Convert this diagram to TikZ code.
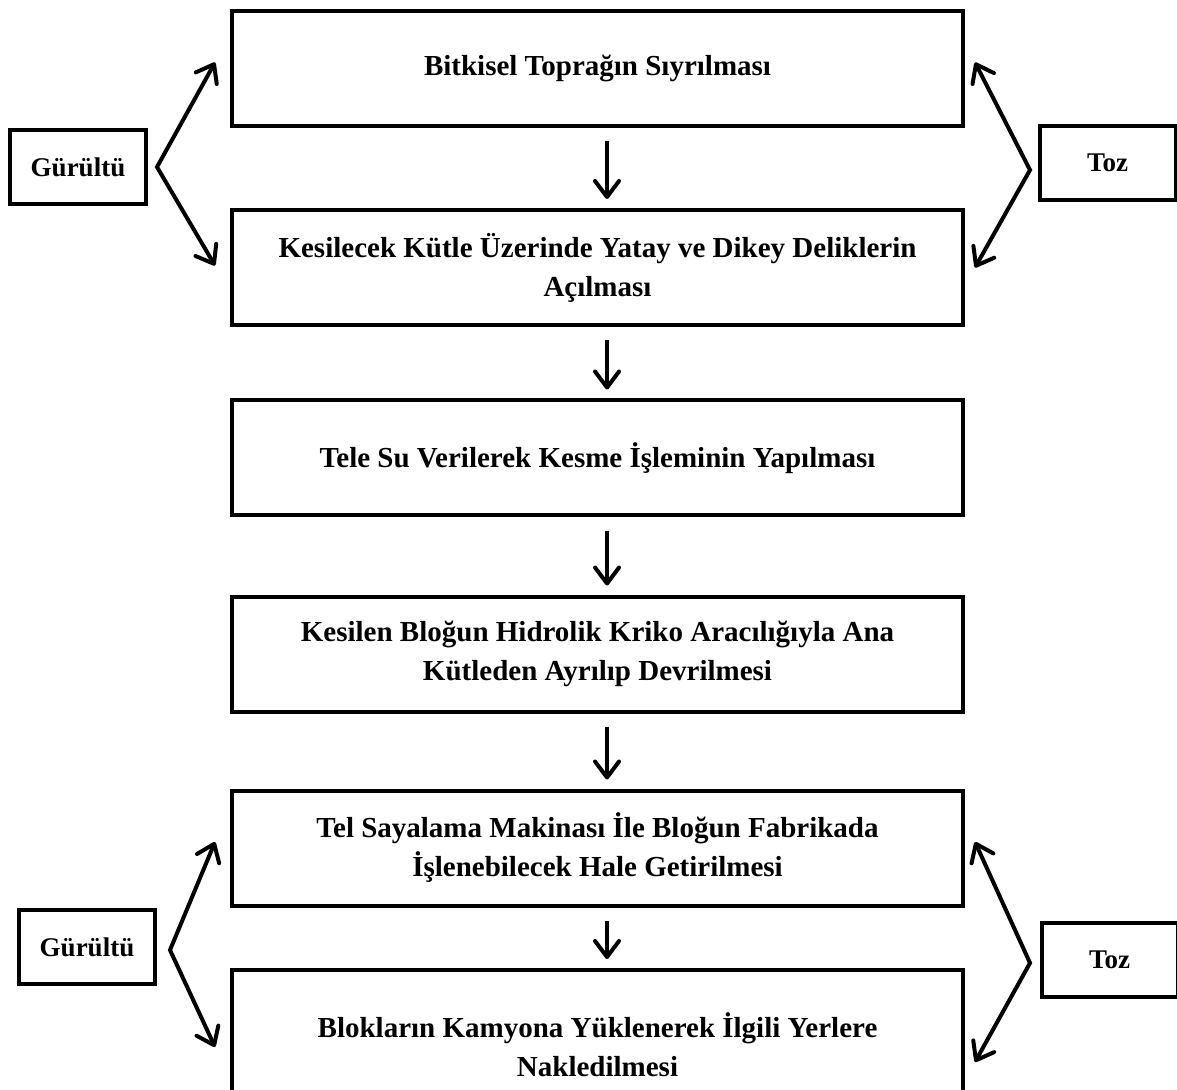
\documentclass[tikz,border=0pt]{standalone}
\usepackage{fontspec}
\setmainfont{Liberation Serif}
\usetikzlibrary{calc,arrows.meta}

\begin{document}
\begin{tikzpicture}[x=0.5pt,y=-0.5pt]
 \tikzstyle{arrow}  = [->,line width=2pt,>={Straight Barb[length=8pt,width=12pt,round]}];
 \tikzstyle{stage}  = [draw=black,line width=2pt,fill=white,minimum width=365.5pt,minimum height=57.5pt,
                       inner sep=0pt,align=center,font=\fontsize{14.5pt}{19.5pt}\selectfont\bfseries];
 \tikzstyle{effect} = [draw=black,line width=2pt,fill=white,minimum width=68pt,minimum height=37pt,
                       inner sep=0pt,font=\fontsize{13.5pt}{16pt}\selectfont\bfseries];

 \useasboundingbox (0,0) rectangle (1177,1090);

 %% process steps
 \node[stage,name=s0] at (597.5,68.5) {Bitkisel Toprağın Sıyrılması};
 \node[stage,name=s1] at (597.5,267.5) {Kesilecek Kütle Üzerinde Yatay ve Dikey Deliklerin\\Açılması};
 \node[stage,name=s2] at (597.5,458) {Tele Su Verilerek Kesme İşleminin Yapılması};
 \node[stage,name=s3] at (597.5,654) {Kesilen Bloğun Hidrolik Kriko Aracılığıyla Ana\\Kütleden Ayrılıp Devrilmesi};
 \node[stage,name=s4] at (597.5,848) {Tel Sayalama Makinası İle Bloğun Fabrikada\\İşlenebilecek Hale Getirilmesi};
 \node[stage,name=s5,minimum height=75pt] at (597.5,1045) {Blokların Kamyona Yüklenerek İlgili Yerlere\\Nakledilmesi};

 \foreach \a/\b in {s0/s1,s1/s2,s2/s3,s3/s4,s4/s5}
   \draw[arrow,shorten <=6.5pt,shorten >=4.5pt] ([xshift=4.75pt]\a.south) -- ([xshift=4.75pt]\b.north);

 %% side effects
 \node[effect,name=g0] at (78,167) {Gürültü};
 \node[effect,name=t0] at (1107.5,163) {Toz};
 \node[effect,name=g1] at (87,947) {Gürültü};
 \node[effect,name=t1] at (1109.5,960) {Toz};

 \coordinate (ga0) at ([xshift=4.5pt]g0.east);
 \coordinate (ta0) at ([xshift=-3.75pt,yshift=-3.5pt]t0.west);
 \coordinate (ga1) at ([xshift=6.5pt,yshift=-1.5pt]g1.east);
 \coordinate (ta1) at ([xshift=-4.75pt,yshift=-1.5pt]t1.west);

 \draw[arrow,<->] ([shift={(-7.5pt,3pt)}]s0.west) -- (ga0) -- ([shift={(-7.5pt,1pt)}]s1.west);
 \draw[arrow,<->] ([shift={(5pt,3pt)}]s0.east) -- (ta0) -- ([shift={(5pt,0pt)}]s1.east);
 \draw[arrow,<->] ([shift={(-7.5pt,3pt)}]s4.west) -- (ga1) -- ([shift={(-7.5pt,-1pt)}]s5.west);
 \draw[arrow,<->] ([shift={(5pt,3pt)}]s4.east) -- (ta1) -- ([shift={(5pt,-8.5pt)}]s5.east);

\end{tikzpicture}
\end{document}
